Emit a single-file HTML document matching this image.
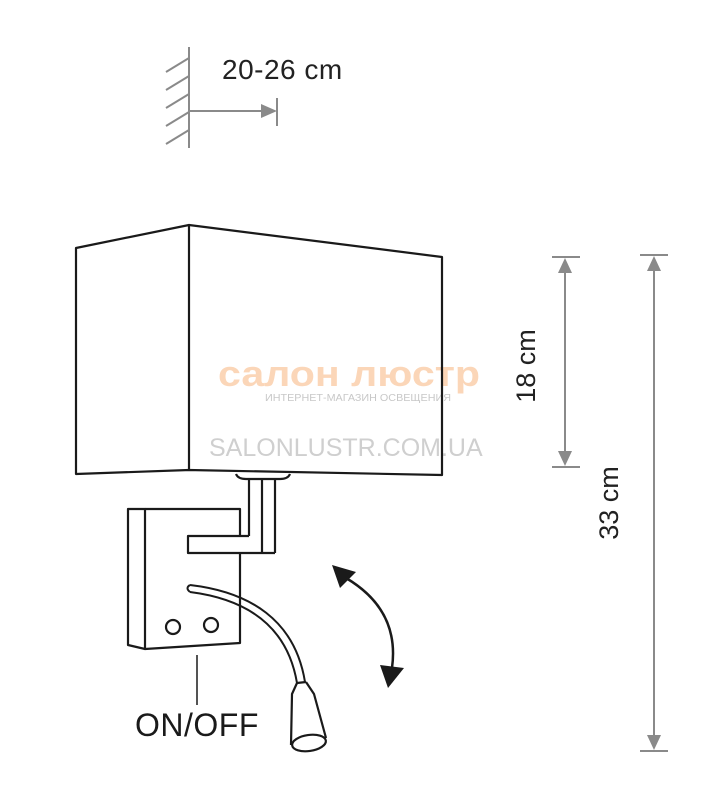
<!DOCTYPE html>
<html><head><meta charset="utf-8"><style>
html,body{margin:0;padding:0;background:#fff;width:714px;height:805px;overflow:hidden}
svg{display:block}
</style></head><body>
<svg width="714" height="805" viewBox="0 0 714 805" xmlns="http://www.w3.org/2000/svg">
<g stroke="#8a8a8a" stroke-width="2" fill="none">
<line x1="189" y1="47" x2="189" y2="148"/>
<line x1="189" y1="58" x2="166" y2="72"/>
<line x1="189" y1="76" x2="166" y2="90"/>
<line x1="189" y1="94" x2="166" y2="108"/>
<line x1="189" y1="112" x2="166" y2="126"/>
<line x1="189" y1="130" x2="166" y2="144"/>
<line x1="189" y1="111" x2="264" y2="111"/>
<line x1="277" y1="98" x2="277" y2="126"/>
<line x1="565" y1="262" x2="565" y2="462"/>
<line x1="552" y1="257" x2="580" y2="257"/>
<line x1="552" y1="467" x2="580" y2="467"/>
<line x1="654" y1="260" x2="654" y2="746"/>
<line x1="640" y1="255" x2="668" y2="255"/>
<line x1="640" y1="751" x2="668" y2="751"/>
</g>
<g fill="#8a8a8a">
<polygon points="261,104 277,111 261,118"/>
<polygon points="558,273 565,258 572,273"/>
<polygon points="558,451 565,466 572,451"/>
<polygon points="647,271 654,256 661,271"/>
<polygon points="647,735 654,750 661,735"/>
</g>
<text x="222" y="79" font-family="'Liberation Sans',sans-serif" font-size="28" letter-spacing="0.5" fill="#222">20-26 cm</text>
<text transform="translate(535,366) rotate(-90)" text-anchor="middle" font-family="'Liberation Sans',sans-serif" font-size="27" fill="#222">18 cm</text>
<text transform="translate(618,503) rotate(-90)" text-anchor="middle" font-family="'Liberation Sans',sans-serif" font-size="27" fill="#222">33 cm</text>
<text x="218" y="386" textLength="262" lengthAdjust="spacingAndGlyphs" font-family="'Liberation Sans',sans-serif" font-weight="bold" font-size="36" fill="#fbd6b8">салон люстр</text>
<text x="265" y="401" textLength="186" lengthAdjust="spacingAndGlyphs" font-family="'Liberation Sans',sans-serif" font-size="10" fill="#c8c8c8">ИНТЕРНЕТ-МАГАЗИН ОСВЕЩЕНИЯ</text>
<text x="209" y="456" font-family="'Liberation Sans',sans-serif" font-size="25" fill="#cfcfcf">SALONLUSTR.COM.UA</text>
<g stroke="#1a1a1a" stroke-width="2.2" fill="none" stroke-linejoin="round">
<polygon points="76,248 189,225 442,257 442,475 189,470 76,474"/>
<line x1="189" y1="225" x2="189" y2="470"/>
<path d="M236,474 Q238,479 246,479 L280,479 Q288,479 290,474"/>
<line x1="249" y1="479" x2="249" y2="536"/>
<line x1="262" y1="479" x2="262" y2="553"/>
<line x1="275" y1="479" x2="275" y2="553"/>
<polyline points="249,536 188,536 188,553 275,553"/>
<polygon points="128,509 145,509 145,649 128,645"/>
<polyline points="145,509 240,509 240,536"/>
<polyline points="240,553 240,643 145,649"/>
<circle cx="173" cy="627" r="7"/>
<circle cx="211" cy="625" r="7"/>
<path d="M190,585 C250,592 295,620 305,682" stroke-width="2"/>
<path d="M190,592 C245,599 287,624 297,683" stroke-width="2"/>
<path d="M190,585 Q185,588 190,592" stroke-width="2"/>
<path d="M297,683 L292,694 L291,745 M306,682 L314,694 L326,738"/>
<line x1="297" y1="683" x2="306" y2="682"/>
<ellipse cx="309" cy="743" rx="17" ry="8" transform="rotate(-8 309 743)"/>
<path d="M346,578 Q400,610 392,668" stroke-width="2.5"/>
</g>
<polygon points="332,565 356,572 340,588" fill="#1a1a1a"/>
<polygon points="380,665 404,668 388,688" fill="#1a1a1a"/>
<line x1="197" y1="655" x2="197" y2="705" stroke="#1a1a1a" stroke-width="1.5"/>
<text x="135" y="736" font-family="'Liberation Sans',sans-serif" font-size="32" letter-spacing="0.5" fill="#1a1a1a">ON/OFF</text>
</svg>
</body></html>
